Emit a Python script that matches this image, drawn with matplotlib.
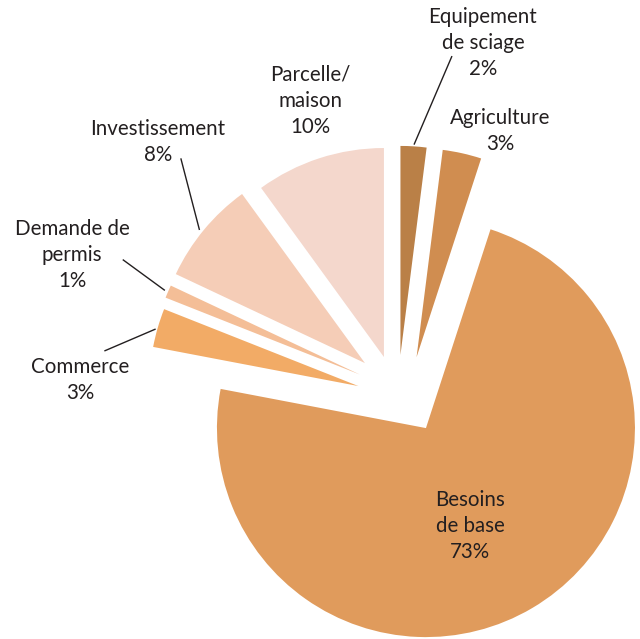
import numpy as np
import matplotlib
matplotlib.use("Agg")
import matplotlib.pyplot as plt

plt.rcParams['font.family'] = ['Lato', 'DejaVu Sans']

# slices, clockwise from 12 o'clock
labels = ["Equipement\nde sciage", "Agriculture", "Besoins\nde base", "Commerce",
          "Demande de\npermis", "Investissement", "Parcelle/\nmaison"]
shares = [2, 3, 73, 3, 1, 8, 10]
colors = ["#BA8047", "#D08D50", "#E09B5C", "#F2AB66", "#F4BE97", "#F5CDB7", "#F4D7CC"]

# manual shift of every slice (in pie radii), the original was pulled apart by hand
shift = [(0.050, 0.096), (0.127, 0.085), (0.172, -0.254), (-0.151, -0.053),
         (-0.144, 0.002), (-0.120, 0.057), (-0.029, 0.086)]

R_PX = 209.0
CX, CY = 390.0, 375.0


def px(x, y):
    # image pixel -> data units
    return ((x - CX) / R_PX, (CY - y) / R_PX)


fig = plt.figure(figsize=(6.4, 6.39), dpi=100)
ax = fig.add_axes([0, 0, 1, 1])

wedges, _ = ax.pie(shares, colors=colors, startangle=90, counterclock=False,
                   radius=1.0, wedgeprops=dict(linewidth=0))
for w, (dx, dy) in zip(wedges, shift):
    w.set_center((dx, dy))

x0, y1 = px(0, 0)
x1, y0 = px(640, 639)
ax.set_xlim(x0, x1)
ax.set_ylim(y0, y1)
ax.set_aspect('auto')
ax.axis('off')

# label positions (centre of text block) and leader lines, in pixels
label_pos = [(483, 43), (500, 131), (470, 526), (80, 380), (72, 255), (158, 142), (310, 101)]
leaders = {0: ((451.7, 56.7), (414.3, 144)),
           3: ((105, 350.7), (155, 329.3)),
           4: ((123.3, 260), (164.3, 290)),
           5: ((181, 159), (199.3, 229.3))}

for i, (lab, s) in enumerate(zip(labels, shares)):
    tx, ty = px(*label_pos[i])
    ax.text(tx, ty, f"{lab}\n{s}%", ha='center', va='center', fontsize=14.8,
            color='#231F20', linespacing=1.4)
    if i in leaders:
        (ax_, ay_), (bx_, by_) = leaders[i]
        p, q = px(ax_, ay_), px(bx_, by_)
        ax.plot([p[0], q[0]], [p[1], q[1]], color='#231F20', lw=1.0)

fig.savefig("out.png", dpi=100)
